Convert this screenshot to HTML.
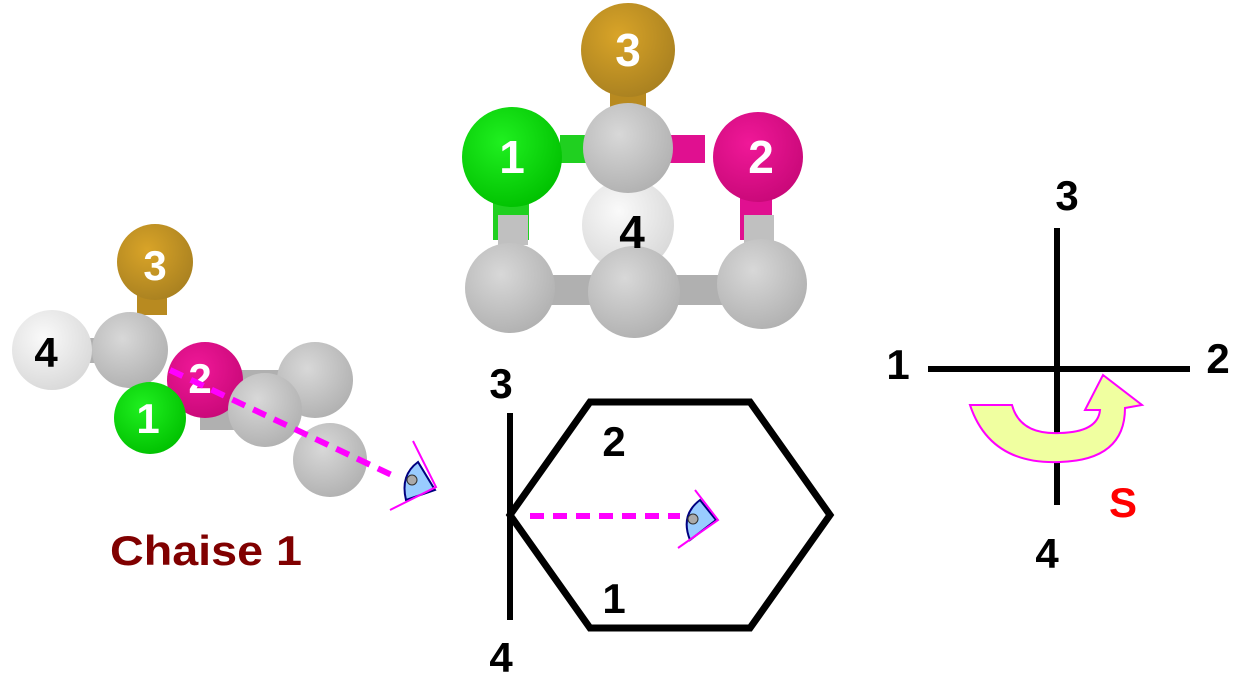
<!DOCTYPE html>
<html><head><style>
html,body{margin:0;padding:0;background:#fff;}
svg{display:block;}
text{font-family:"Liberation Sans",Arial,sans-serif;font-weight:bold;}
</style></head><body>
<svg width="1249" height="689" viewBox="0 0 1249 689" xmlns="http://www.w3.org/2000/svg">
<defs>
<radialGradient id="g" cx="0.4" cy="0.35" r="0.7"><stop offset="0" stop-color="#d8d8d8"/><stop offset="1" stop-color="#b0b0b0"/></radialGradient>
<radialGradient id="w" cx="0.4" cy="0.35" r="0.7"><stop offset="0" stop-color="#fafafa"/><stop offset="1" stop-color="#d8d8d8"/></radialGradient>
<radialGradient id="y" cx="0.4" cy="0.35" r="0.7"><stop offset="0" stop-color="#d9a428"/><stop offset="1" stop-color="#a88020"/></radialGradient>
<radialGradient id="m" cx="0.4" cy="0.35" r="0.7"><stop offset="0" stop-color="#f01898"/><stop offset="1" stop-color="#c80878"/></radialGradient>
<radialGradient id="gr" cx="0.4" cy="0.35" r="0.7"><stop offset="0" stop-color="#20f020"/><stop offset="1" stop-color="#00c000"/></radialGradient>
</defs>
<!-- top molecule -->
<rect x="610" y="88" width="36" height="30" fill="#b88a20"/>
<rect x="560" y="135" width="50" height="28" fill="#20d020"/>
<rect x="650" y="135" width="55" height="28" fill="#e01090"/>
<rect x="493" y="185" width="36" height="55" fill="#20d020"/>
<rect x="740" y="185" width="32" height="55" fill="#e01090"/>
<rect x="540" y="275" width="200" height="30" fill="#b0b0b0"/>
<circle cx="628" cy="50" r="47" fill="url(#y)"/>
<circle cx="628" cy="225" r="46" fill="url(#w)"/>
<circle cx="628" cy="148" r="45" fill="url(#g)"/>
<circle cx="512" cy="157" r="50" fill="url(#gr)"/>
<circle cx="758" cy="157" r="45" fill="url(#m)"/>
<rect x="498" y="215" width="30" height="30" fill="#c0c0c0"/>
<rect x="744" y="215" width="30" height="30" fill="#c0c0c0"/>
<circle cx="510" cy="288" r="45" fill="url(#g)"/>
<circle cx="762" cy="284" r="45" fill="url(#g)"/>
<circle cx="634" cy="292" r="46" fill="url(#g)"/>
<text x="628" y="66" font-size="46" fill="#fff" text-anchor="middle">3</text>
<text x="512" y="173" font-size="46" fill="#fff" text-anchor="middle">1</text>
<text x="761" y="173" font-size="46" fill="#fff" text-anchor="middle">2</text>
<text x="632" y="248" font-size="46" fill="#000" text-anchor="middle">4</text>
<!-- left molecule -->
<rect x="137" y="290" width="30" height="25" fill="#b88a20"/>
<rect x="80" y="338" width="30" height="25" fill="#b0b0b0"/>
<rect x="230" y="370" width="80" height="25" fill="#b0b0b0"/>
<rect x="200" y="410" width="60" height="20" fill="#b0b0b0"/>
<circle cx="155" cy="262" r="38" fill="url(#y)"/>
<circle cx="52" cy="350" r="40" fill="url(#w)"/>
<circle cx="315" cy="380" r="38" fill="url(#g)"/>
<circle cx="130" cy="350" r="38" fill="url(#g)"/>
<circle cx="205" cy="380" r="38" fill="url(#m)"/>
<circle cx="265" cy="410" r="37" fill="url(#g)"/>
<circle cx="330" cy="460" r="37" fill="url(#g)"/>
<circle cx="150" cy="418" r="36" fill="url(#gr)"/>
<text x="155" y="280" font-size="42" fill="#fff" text-anchor="middle">3</text>
<text x="46" y="367" font-size="42" fill="#000" text-anchor="middle">4</text>
<text x="200" y="393" font-size="42" fill="#fff" text-anchor="middle">2</text>
<text x="148" y="433" font-size="42" fill="#fff" text-anchor="middle">1</text>
<line x1="170" y1="370" x2="398" y2="478" stroke="#ff00ff" stroke-width="6" stroke-dasharray="14,9"/>
<path d="M418 462 Q400 475 406 500 L435 490 Z" fill="#99ccff" stroke="#000080" stroke-width="2"/>
<circle cx="412" cy="480" r="5" fill="#aaa" stroke="#333"/>
<polyline points="413,441 436,487 390,510" fill="none" stroke="#ff00ff" stroke-width="2"/>
<text x="110" y="565" font-size="42" fill="#800000" textLength="192" lengthAdjust="spacingAndGlyphs">Chaise 1</text>
<!-- hexagon -->
<polygon points="510,515 590,402 750,402 830,515 750,628 590,628" fill="none" stroke="#000" stroke-width="7" stroke-linejoin="miter"/>
<line x1="510" y1="413" x2="510" y2="620" stroke="#000" stroke-width="6"/>
<line x1="530" y1="516" x2="680" y2="516" stroke="#ff00ff" stroke-width="6" stroke-dasharray="14,9"/>
<path d="M700 500 Q680 515 690 540 L716 520 Z" fill="#99ccff" stroke="#000080" stroke-width="2"/>
<circle cx="693" cy="519" r="5" fill="#aaa" stroke="#333"/>
<polyline points="695,490 718,520 678,548" fill="none" stroke="#ff00ff" stroke-width="2"/>
<text x="501" y="398" font-size="42" fill="#000" text-anchor="middle">3</text>
<text x="501" y="672" font-size="42" fill="#000" text-anchor="middle">4</text>
<text x="614" y="456" font-size="42" fill="#000" text-anchor="middle">2</text>
<text x="614" y="613" font-size="42" fill="#000" text-anchor="middle">1</text>
<!-- cross -->
<line x1="1057" y1="228" x2="1057" y2="505" stroke="#000" stroke-width="6"/>
<line x1="928" y1="369" x2="1190" y2="369" stroke="#000" stroke-width="6"/>
<path d="M970 405 Q990 465 1060 462 Q1125 460 1125 408 L1142 405 L1103 375 L1085 410 L1100 410 Q1098 432 1060 433 Q1020 435 1012 405 Z" fill="#f0ffa0" stroke="#ff00ff" stroke-width="2"/>
<text x="1067" y="210" font-size="42" fill="#000" text-anchor="middle">3</text>
<text x="898" y="379" font-size="42" fill="#000" text-anchor="middle">1</text>
<text x="1218" y="373" font-size="42" fill="#000" text-anchor="middle">2</text>
<text x="1047" y="568" font-size="42" fill="#000" text-anchor="middle">4</text>
<text x="1123" y="517" font-size="42" fill="#ff0000" text-anchor="middle">S</text>
</svg>
</body></html>
